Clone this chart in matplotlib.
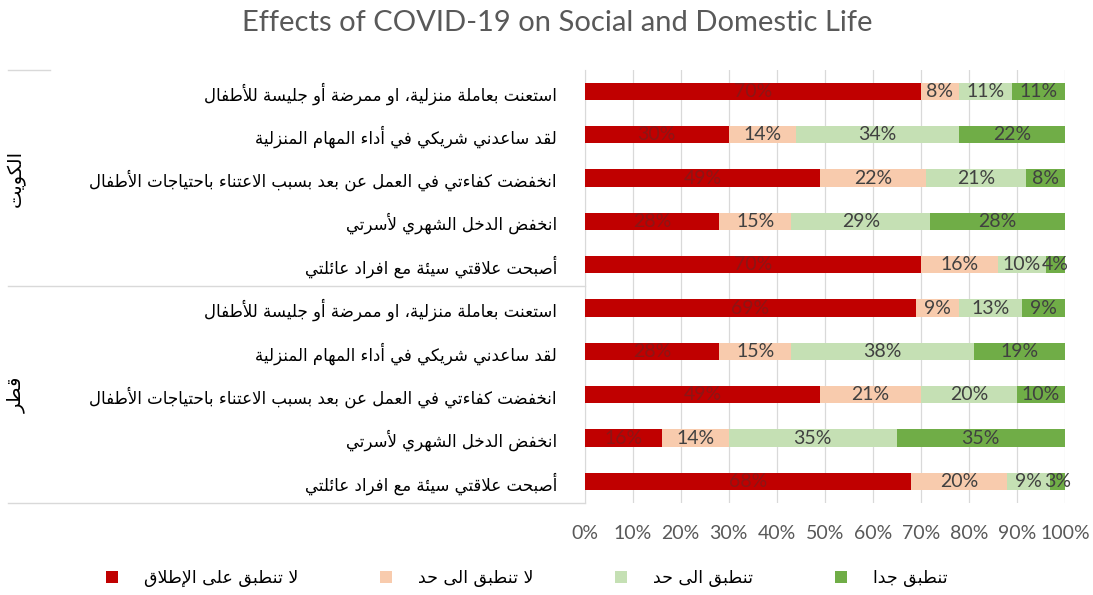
import matplotlib
matplotlib.use("Agg")
import matplotlib.pyplot as plt
import matplotlib.transforms as mtransforms

# Arabic letters -> (first presentation form, number of forms)
_arabic = {
    0x0621: (0xFE80, 1), 0x0622: (0xFE81, 2), 0x0623: (0xFE83, 2), 0x0624: (0xFE85, 2),
    0x0625: (0xFE87, 2), 0x0626: (0xFE89, 4), 0x0627: (0xFE8D, 2), 0x0628: (0xFE8F, 4),
    0x0629: (0xFE93, 2), 0x062A: (0xFE95, 4), 0x062B: (0xFE99, 4), 0x062C: (0xFE9D, 4),
    0x062D: (0xFEA1, 4), 0x062E: (0xFEA5, 4), 0x062F: (0xFEA9, 2), 0x0630: (0xFEAB, 2),
    0x0631: (0xFEAD, 2), 0x0632: (0xFEAF, 2), 0x0633: (0xFEB1, 4), 0x0634: (0xFEB5, 4),
    0x0635: (0xFEB9, 4), 0x0636: (0xFEBD, 4), 0x0637: (0xFEC1, 4), 0x0638: (0xFEC5, 4),
    0x0639: (0xFEC9, 4), 0x063A: (0xFECD, 4), 0x0641: (0xFED1, 4), 0x0642: (0xFED5, 4),
    0x0643: (0xFED9, 4), 0x0644: (0xFEDD, 4), 0x0645: (0xFEE1, 4), 0x0646: (0xFEE5, 4),
    0x0647: (0xFEE9, 4), 0x0648: (0xFEED, 2), 0x0649: (0xFEEF, 2), 0x064A: (0xFEF1, 4),
}
_lam_alef = {0x0622: 0xFEF5, 0x0623: 0xFEF7, 0x0625: 0xFEF9, 0x0627: 0xFEFB}


def shape(text):
    # join letters into contextual forms and put them in visual (RTL) order
    items = []
    i = 0
    while i < len(text):
        c = ord(text[i])
        if c == 0x0644 and i + 1 < len(text) and ord(text[i + 1]) in _lam_alef:
            items.append(("la", _lam_alef[ord(text[i + 1])]))
            i += 2
        else:
            items.append(("ch", c))
            i += 1

    def kind(item):
        t, c = item
        if t == "la":
            return 2
        return _arabic[c][1] if c in _arabic else 0

    out = []
    for j, item in enumerate(items):
        t, c = item
        k = kind(item)
        prev = kind(items[j - 1]) if j > 0 else 0
        nxt = kind(items[j + 1]) if j + 1 < len(items) else 0
        join_prev = k >= 2 and prev == 4
        join_next = k == 4 and nxt >= 2
        if k == 0:
            out.append(chr(c))
        elif t == "la":
            out.append(chr(c + (1 if join_prev else 0)))
        else:
            base = _arabic[c][0]
            if join_prev and join_next:
                f = 3
            elif join_prev:
                f = 1
            elif join_next:
                f = 2
            else:
                f = 0
            out.append(chr(base + f))
    return "".join(reversed(out))


title = "Effects of COVID-19 on Social and Domestic Life"
groups = ["الكويت", "قطر"]
statements = [
    "استعنت بعاملة منزلية، او ممرضة أو جليسة للأطفال",
    "لقد ساعدني شريكي في أداء المهام المنزلية",
    "انخفضت كفاءتي في العمل عن بعد بسبب الاعتناء باحتياجات الأطفال",
    "انخفض الدخل الشهري لأسرتي",
    "أصبحت علاقتي سيئة مع افراد عائلتي",
]
series_names = ["لا تنطبق على الإطلاق", "لا تنطبق الى حد", "تنطبق الى حد", "تنطبق جدا"]

# percentages, Kuwait rows then Qatar rows
not_at_all = [70, 30, 49, 28, 70, 69, 28, 49, 16, 68]
not_much = [8, 14, 22, 15, 16, 9, 15, 21, 14, 20]
somewhat = [11, 34, 21, 29, 10, 13, 38, 20, 35, 9]
very_much = [11, 22, 8, 28, 4, 9, 19, 10, 35, 3]

colors = ["#C00000", "#F8CBAD", "#C5E0B4", "#70AD47"]
label_colors = ["#8C1515", "#404040", "#404040", "#404040"]

plt.rcParams["font.family"] = ["Lato", "DejaVu Sans"]

fig = plt.figure(figsize=(10.93, 5.95), dpi=100)
ax = fig.add_axes([0.535, 0.1546, 0.4392, 0.728])

rows = list(range(len(not_at_all)))
left = [0] * len(rows)
for vals, name, col, lcol in zip([not_at_all, not_much, somewhat, very_much],
                                 series_names, colors, label_colors):
    bars = ax.barh(rows, vals, left=left, height=0.4, color=col,
                   label=shape(name), zorder=3)
    ax.bar_label(bars, labels=[f"{v}%" for v in vals], label_type="center",
                 color=lcol, fontsize=14, zorder=4)
    left = [a + b for a, b in zip(left, vals)]

ax.set_xlim(0, 100)
ax.set_ylim(len(rows) - 0.5, -0.5)
ax.set_xticks(range(0, 101, 10))
ax.set_xticklabels([f"{t}%" for t in range(0, 101, 10)], fontsize=14, color="#595959")
ax.tick_params(axis="x", length=0, pad=16)
ax.set_yticks(rows)
ax.set_yticklabels([shape(s) for s in statements * len(groups)],
                   fontsize=12, family="DejaVu Sans", color="black")
ax.tick_params(axis="y", length=0, pad=20)
ax.grid(axis="x", color="#D9D9D9", linewidth=0.9, zorder=0)
for side in ["top", "right", "bottom"]:
    ax.spines[side].set_visible(False)
ax.spines["left"].set_color("#D9D9D9")

# outer category axis: group names and separators
trans = mtransforms.blended_transform_factory(ax.transAxes, ax.transData)
n_per = len(statements)
ax.plot([-1.202, -1.115], [-0.5, -0.5], transform=trans, color="#D9D9D9",
        linewidth=1, clip_on=False)
for g, name in enumerate(groups):
    y_end = (g + 1) * n_per - 0.5
    ax.plot([-1.202, 0], [y_end, y_end], transform=trans, color="#D9D9D9",
            linewidth=1, clip_on=False)
    ax.text(-1.185, g * n_per + (n_per - 1) / 2, shape(name), transform=trans,
            rotation=90, ha="center", va="center", fontsize=14,
            family="DejaVu Sans", color="black")

fig.text(0.51, 0.962, title, ha="center", va="center", fontsize=21, color="#595959")

leg = fig.legend(loc="center", bbox_to_anchor=(0.482, 0.028), ncol=4, frameon=False,
                 prop={"family": "DejaVu Sans", "size": 12.5}, handlelength=0.7,
                 handleheight=0.7, columnspacing=4.7, handletextpad=1.5)

fig.savefig("out.png", dpi=100)
